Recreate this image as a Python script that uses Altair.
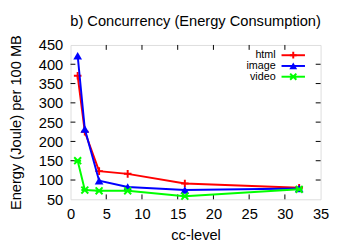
import altair as alt
import pandas as pd

cc = [1, 2, 4, 8, 16, 32]
html = [370, 225, 123, 116, 91, 80]
image = [422, 232, 98, 82, 74, 78]
video = [150, 74, 72, 72, 58, 76]
series = ["html", "image", "video"]
colors = ["#ff0000", "#0000ff", "#00ff00"]
x_ticks = [0, 5, 10, 15, 20, 25, 30, 35]
y_ticks = [50, 100, 150, 200, 250, 300, 350, 400, 450]

rows = []
for name, vals in zip(series, [html, image, video]):
    for c, v in zip(cc, vals):
        rows.append({"cc": c, "energy": v, "series": name})
df = pd.DataFrame(rows)

FONT = "Liberation Sans"
W, H = 256, 158
xs = alt.Scale(domain=[0, 35], nice=False, zero=False)
ys = alt.Scale(domain=[50, 450], nice=False, zero=False)

shapes = {
    "html": "M-1,0L1,0M0,-1L0,1",
    "image": "triangle-up",
    "video": "M-1,-1L1,1M-1,1L1,-1M-1,0L1,0",
}
filled = {"html": False, "image": True, "video": False}
psize = {"html": 60, "image": 80, "video": 50}

axis_common = dict(tickSize=0, grid=False, domain=False, labelOverlap=False, labelFlush=False,
                   labelFont=FONT, labelFontSize=15, titleFont=FONT, titleFontSize=15,
                   titleFontWeight="normal", labelColor="black", titleColor="black")
x_axis = alt.Axis(values=x_ticks, labelPadding=8, titlePadding=6, **axis_common)
y_axis = alt.Axis(values=y_ticks, labelPadding=8, titlePadding=15, **axis_common)
X_TITLE = "cc-level"
Y_TITLE = "Energy (Joule) per 100 MB"

def X(field):
    return alt.X(field, scale=xs, axis=x_axis, title=X_TITLE)

def Y(field):
    return alt.Y(field, scale=ys, axis=y_axis, title=Y_TITLE)

layers = []
# inward (mirrored) ticks
xt = pd.DataFrame({"t": x_ticks[1:-1]})
yt = pd.DataFrame({"t": y_ticks[1:-1]})
layers.append(alt.Chart(xt).mark_rule(color="black", strokeWidth=1).encode(
    x=X("t:Q"), y=alt.value(H), y2=alt.value(H - 5)))
layers.append(alt.Chart(xt).mark_rule(color="black", strokeWidth=1).encode(
    x=X("t:Q"), y=alt.value(0), y2=alt.value(5)))
layers.append(alt.Chart(yt).mark_rule(color="black", strokeWidth=1).encode(
    y=Y("t:Q"), x=alt.value(0), x2=alt.value(5)))
layers.append(alt.Chart(yt).mark_rule(color="black", strokeWidth=1).encode(
    y=Y("t:Q"), x=alt.value(W), x2=alt.value(W - 5)))

for name, col in zip(series, colors):
    d = df[df.series == name]
    layers.append(alt.Chart(d).mark_line(color=col, strokeWidth=2).encode(
        x=X("cc:Q"), y=Y("energy:Q")))
    layers.append(alt.Chart(d).mark_point(color=col, shape=shapes[name], filled=filled[name],
                                          size=psize[name], strokeWidth=2, opacity=1).encode(
        x=X("cc:Q"), y=Y("energy:Q")))

# legend (gnuplot style: label left of sample)
for i, (name, col) in enumerate(zip(series, colors)):
    yy = 10.5 + i * 11
    layers.append(alt.Chart(pd.DataFrame({"s": [name]})).mark_text(
        align="right", baseline="middle", font=FONT, fontSize=11, color="black").encode(
        text="s:N", x=alt.value(210), y=alt.value(yy)))
    layers.append(alt.Chart(pd.DataFrame({"s": [name]})).mark_rule(color=col, strokeWidth=2).encode(
        x=alt.value(216), x2=alt.value(240), y=alt.value(yy)))
    layers.append(alt.Chart(pd.DataFrame({"s": [name]})).mark_point(
        color=col, shape=shapes[name], filled=filled[name], size=psize[name] * 0.8, strokeWidth=2,
        opacity=1).encode(x=alt.value(228), y=alt.value(yy)))

chart = alt.layer(*layers).properties(
    width=W, height=H,
    title=alt.TitleParams("b) Concurrency (Energy Consumption)", font=FONT, fontSize=15,
                          fontWeight="normal", color="black", anchor="middle", offset=6,
                          frame="group"),
    autosize=alt.AutoSizeParams(type="none"),
    padding={"left": 64, "top": 35, "right": 26, "bottom": 47},
).configure_view(stroke="black", strokeWidth=1.5).configure(background="white")

chart.save("out.html", embed_options={"renderer": "svg", "actions": False})
